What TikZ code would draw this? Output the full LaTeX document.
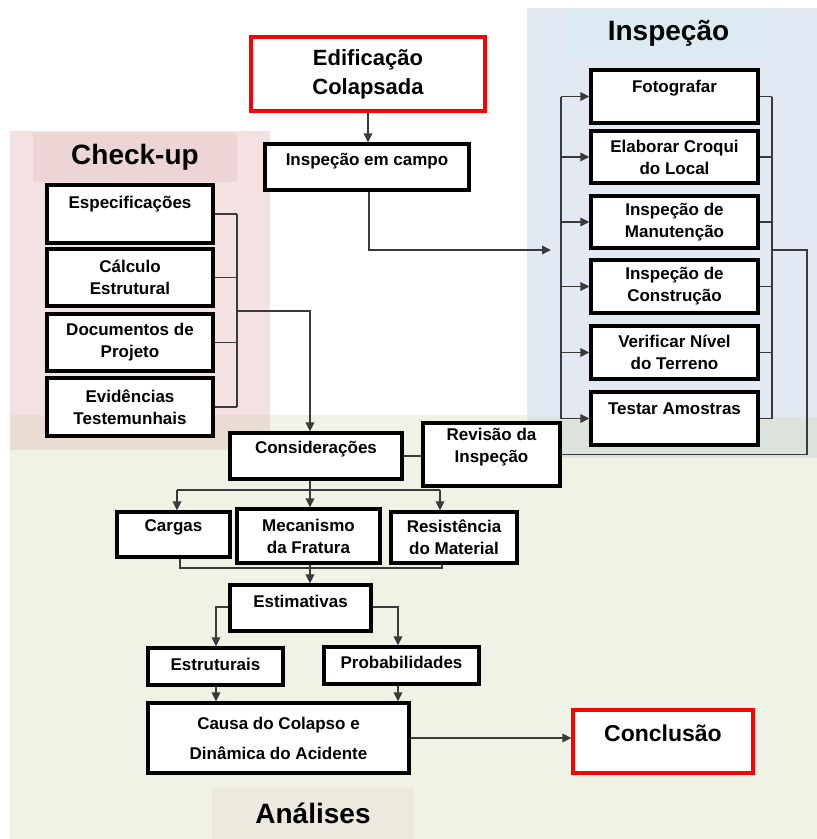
\documentclass[tikz,border=0pt]{standalone}
\usepackage{fontspec}
\setmainfont{Liberation Sans}
\usetikzlibrary{arrows.meta}
\definecolor{pinkbg}{HTML}{F4E2E2}
\definecolor{pinktitle}{HTML}{EDD5D5}
\definecolor{bluebg}{HTML}{E3E9F3}
\definecolor{cyantitle}{HTML}{DBEBF1}
\definecolor{greenbg}{HTML}{EFF2E4}
\definecolor{pinkgreen}{HTML}{E8DCD3}
\definecolor{bluegreen}{HTML}{DCE3DD}
\definecolor{beigetitle}{HTML}{ECEADF}
\definecolor{linec}{HTML}{3A3A3A}
\newcommand{\lblfont}{\fontsize{17}{22}\selectfont\bfseries}
\begin{document}
\begin{tikzpicture}[x=1pt,y=-1pt,
  box/.style={draw=black, line width=3.2pt, fill=white, inner sep=0pt, align=center, font=\lblfont},
  redbox/.style={box, draw=red},
  txt/.style={inner sep=0pt, align=center, font=\lblfont},
  conn/.style={draw=linec, line width=1.9pt},
  arr/.style={conn, -{Triangle[length=9pt,width=8.5pt]}},
  titlebox/.style={inner sep=0pt, font=\fontsize{28}{30}\selectfont\bfseries}]
\useasboundingbox (0,0) rectangle (817,839);
% backgrounds
\fill[greenbg] (10,415) rectangle (817,839);
\fill[pinkbg] (10,131) rectangle (270,415);
\fill[pinkgreen] (10,415) rectangle (270,450);
\fill[bluebg] (527,8) rectangle (817,417);
\fill[bluegreen] (527,417) rectangle (817,458);
\node[titlebox, fill=pinktitle, minimum width=204pt, minimum height=49pt] (checkup) at (135,157.5) {Check-up};
\node[titlebox, fill=cyantitle, minimum width=203pt, minimum height=47pt] (inspt) at (668.5,33.5) {Inspeção};
\node[titlebox, fill=beigetitle, minimum width=202pt, minimum height=51pt] (anal) at (313,813.5) {Análises};
% main column
\node[redbox, minimum width=234pt, minimum height=74pt, font=\fontsize{22}{29}\selectfont\bfseries] (edif) at (368,74) {Edificação\\Colapsada};
\node[box, minimum width=204pt, minimum height=46pt] (campo) at (367,167) {};
\node[txt] (campo-t) at ([yshift=-19pt]campo.north) {Inspeção em campo};
% check-up
\node[box, minimum width=166pt, minimum height=58pt] (esp) at (130,214) {};
\node[txt] (esp-t) at ([yshift=-21pt]esp.north) {Especificações};
\node[box, minimum width=166pt, minimum height=57pt] (calc) at (130,277.5) {Cálculo\\Estrutural};
\node[box, minimum width=166pt, minimum height=57pt] (doc) at (130,342.5) {Documentos de\\Projeto};
\node[box, minimum width=166pt, minimum height=58pt] (evid) at (130,407) {Evidências\\Testemunhais};
% inspecao
\node[box, minimum width=167pt, minimum height=53pt] (foto) at (674.5,96.5) {};
\node[txt] (foto-t) at ([yshift=-20pt]foto.north) {Fotografar};
\node[box, minimum width=167pt, minimum height=52pt] (croqui) at (674.5,157) {Elaborar Croqui\\do Local};
\node[box, minimum width=167pt, minimum height=52pt] (manut) at (674.5,222) {Inspeção de\\Manutenção};
\node[box, minimum width=167pt, minimum height=53pt] (constr) at (674.5,286.5) {Inspeção de\\Construção};
\node[box, minimum width=167pt, minimum height=53pt] (nivel) at (674.5,352.5) {Verificar Nível\\do Terreno};
\node[box, minimum width=167pt, minimum height=53pt] (testar) at (674.5,418.5) {};
\node[txt] (testar-t) at ([yshift=-18pt]testar.north) {Testar Amostras};
% analises
\node[box, minimum width=172pt, minimum height=46pt] (consid) at (316,456) {};
\node[txt] (consid-t) at ([yshift=-18pt]consid.north) {Considerações};
\node[box, minimum width=137pt, minimum height=63pt] (revis) at (491.5,454.5) {Revisão da\\Inspeção\\[-4pt]};
\node[box, minimum width=113pt, minimum height=45pt] (cargas) at (173.5,534.5) {};
\node[txt] (cargas-t) at ([yshift=-17pt]cargas.north) {Cargas};
\node[box, minimum width=143pt, minimum height=54pt] (mecan) at (308.5,536) {Mecanismo\\da Fratura};
\node[box, minimum width=126pt, minimum height=51pt] (resist) at (454,537.5) {Resistência\\do Material};
\node[box, minimum width=141pt, minimum height=46pt] (estim) at (300.5,608) {};
\node[txt] (estim-t) at ([yshift=-18pt]estim.north) {Estimativas};
\node[box, minimum width=135pt, minimum height=37pt] (estrut) at (215.5,666.5) {};
\node[txt] (estrut-t) at ([yshift=-18pt]estrut.north) {Estruturais};
\node[box, minimum width=155pt, minimum height=37pt] (prob) at (401.5,665.5) {};
\node[txt] (prob-t) at ([yshift=-17pt]prob.north) {Probabilidades};
\node[box, minimum width=261pt, minimum height=70pt, font=\fontsize{17}{30}\selectfont\bfseries] (causa) at (278.5,738) {Causa do Colapso e\\Dinâmica do Acidente};
\node[redbox, minimum width=180pt, minimum height=63pt] (concl) at (663,741.5) {};
\node[txt, font=\fontsize{23}{26}\selectfont\bfseries] (concl-t) at ([yshift=-25pt]concl.north) {Conclusão};
% connectors: top
\draw[arr] (edif.south) -- (edif.south |- campo.north);
\coordinate (inArr) at (551,250);
\draw[arr] ([xshift=2pt]campo.south) |- (inArr);
% left bus of inspecao
\coordinate (busL) at (561,0);
\draw[conn] (foto.west -| busL) -- (testar.west -| busL);
\foreach \b in {foto,croqui,manut,constr,nivel,testar}
  \draw[arr] (\b.west -| busL) -- (\b.west);
% right bus of inspecao
\coordinate (busR) at (772,0);
\foreach \b in {foto,croqui,manut,constr,nivel,testar}
  \draw[conn] (\b.east) -- (\b.east -| busR);
\draw[conn] (foto.east -| busR) -- (testar.east -| busR);
\coordinate (rOut) at (807,250);
\draw[conn] (rOut -| busR) -- (rOut) |- (revis.east);
% check-up bracket
\coordinate (busC) at (237,0);
\foreach \b in {esp,calc,doc,evid}
  \draw[conn] (\b.east) -- (\b.east -| busC);
\draw[conn] (esp.east -| busC) -- (evid.east -| busC);
\coordinate (cJoin) at (237,311);
\draw[arr] (cJoin) -| ([xshift=-6pt]consid.north);
% consideracoes
\draw[conn] (consid.east) -- (consid.east -| revis.west);
\coordinate (split1) at (310,490);
\coordinate (sL) at (177,490);
\coordinate (sR) at (440,490);
\draw[conn] ([xshift=-6pt]consid.south) -- (split1);
\draw[conn] (sL) -- (sR);
\draw[arr] (sL) -- (sL |- cargas.north);
\draw[arr] (split1) -- (split1 |- mecan.north);
\draw[arr] (sR) -- (sR |- resist.north);
% lower bracket
\coordinate (jL) at (180,568);
\coordinate (jR) at (442,568);
\draw[conn] (jL |- cargas.south) -- (jL) -- (jR) -- (jR |- resist.south);
\draw[arr] (split1 |- mecan.south) -- (split1 |- estim.north);
% estimativas
\coordinate (eL) at (216,607);
\coordinate (eR) at (398,607);
\draw[arr] (eL -| estim.west) -- (eL) -- (eL |- estrut.north);
\draw[arr] (eR -| estim.east) -- (eR) -- (eR |- prob.north);
\draw[arr] (eL |- estrut.south) -- (eL |- causa.north);
\draw[arr] (eR |- prob.south) -- (eR |- causa.north);
\draw[arr] (causa.east) -- (causa.east -| concl.west);
\end{tikzpicture}
\end{document}
